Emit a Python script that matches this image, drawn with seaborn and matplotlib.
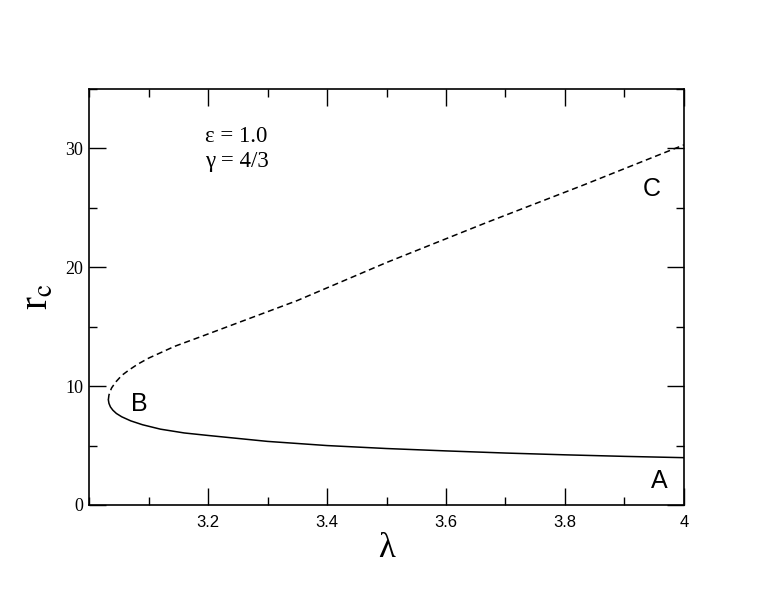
import numpy as np
import pandas as pd
import seaborn as sns
import matplotlib.pyplot as plt
from matplotlib.ticker import MultipleLocator

# lower (stable) branch, solid line
lam_lower = [3.0325, 3.0335, 3.036, 3.04, 3.046, 3.055, 3.07, 3.09, 3.12, 3.16, 3.2, 3.3, 3.4, 3.5, 3.6, 3.7, 3.8, 3.9, 4.0]
rc_lower = [8.85, 8.55, 8.25, 7.98, 7.7, 7.42, 7.08, 6.75, 6.38, 6.06, 5.85, 5.35, 5.0, 4.75, 4.55, 4.37, 4.22, 4.09, 3.98]

# upper branch, dashed line
lam_upper = [3.0325, 3.0335, 3.0355, 3.038, 3.045, 3.055, 3.067, 3.082, 3.1, 3.144, 3.19, 3.27, 3.35, 3.5, 3.67, 3.83, 4.0]
rc_upper = [8.85, 9.25, 9.55, 9.85, 10.35, 10.9, 11.35, 11.85, 12.35, 13.35, 14.2, 15.7, 17.2, 20.4, 23.8, 26.9, 30.3]

xticks = [3.2, 3.4, 3.6, 3.8, 4.0]
xticklabels = ["3.2", "3.4", "3.6", "3.8", "4"]
yticks = [0, 10, 20, 30]

sns.set_style("ticks")
plt.rcParams["font.family"] = ["Liberation Sans", "DejaVu Sans"]
plt.rcParams["mathtext.fontset"] = "stix"
plt.rcParams["text.color"] = "black"
plt.rcParams["axes.labelcolor"] = "black"
plt.rcParams["xtick.color"] = "black"
plt.rcParams["ytick.color"] = "black"

serif = ["Liberation Serif", "DejaVu Serif"]

fig = plt.figure(figsize=(7.7, 5.95), dpi=100)
ax = fig.add_axes([0.1156, 0.1513, 0.7727, 0.6991])

df_lo = pd.DataFrame({"lam": lam_lower, "rc": rc_lower})
df_up = pd.DataFrame({"lam": lam_upper, "rc": rc_upper})
sns.lineplot(data=df_lo, x="lam", y="rc", sort=False, color="black", lw=1.1, ax=ax)
sns.lineplot(data=df_up, x="lam", y="rc", sort=False, color="black", lw=1.1,
             linestyle=(0, (4, 2.5)), ax=ax)

ax.set_xlim(3.0, 4.0)
ax.set_ylim(0, 35)
ax.set_xticks(xticks)
ax.set_xticklabels(xticklabels)
ax.set_yticks(yticks)
ax.xaxis.set_minor_locator(MultipleLocator(0.1))
ax.yaxis.set_minor_locator(MultipleLocator(5))
ax.tick_params(which="both", direction="in", top=True, right=True, width=1,
               color="black", labelcolor="black")
ax.tick_params(which="major", length=12)
ax.tick_params(which="minor", length=6)
ax.tick_params(axis="x", labelsize=12, pad=7)
ax.tick_params(axis="y", labelsize=13, pad=4)
for lab in ax.get_yticklabels():
    lab.set_family(serif)
for sp in ax.spines.values():
    sp.set_linewidth(1.2)
    sp.set_color("black")

ax.set_xlabel("λ", fontsize=25, family=serif, labelpad=2)
ax.set_ylabel(r"r$_{\mathrm{c}}$", fontsize=28, family=serif, labelpad=6)

ax.text(3.195, 30.5, "ε = 1.0", fontsize=16.5, family=serif)
ax.text(3.195, 28.4, "γ = 4/3", fontsize=16.5, family=serif)
ax.text(3.07, 7.9, "B", fontsize=18)
ax.text(3.945, 1.4, "A", fontsize=18)
ax.text(3.93, 26.0, "C", fontsize=18)

plt.savefig("out.png", dpi=100)
